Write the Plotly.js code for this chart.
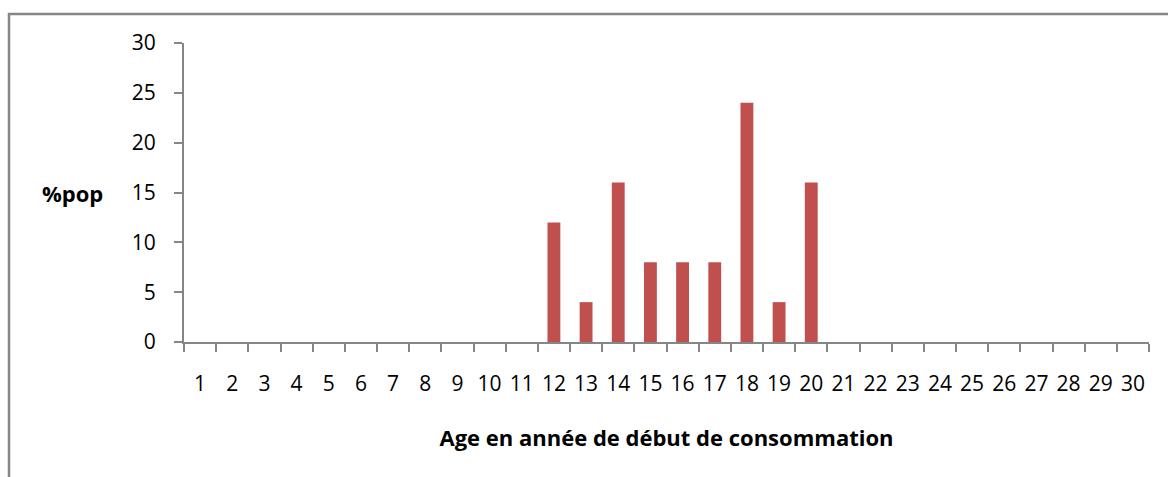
<!DOCTYPE html>
<html><head><meta charset="utf-8">
<script src="https://cdn.plot.ly/plotly-3.0.1.min.js"></script>
<style>body{margin:0;background:#fff}#c{width:1168px;height:477px}</style>
</head><body><div id="c"></div>
<script>
const ages = ["1","2","3","4","5","6","7","8","9","10","11","12","13","14","15","16","17","18","19","20","21","22","23","24","25","26","27","28","29","30"];
const pctPop = [0,0,0,0,0,0,0,0,0,0,0,12,4,16,8,8,8,24,4,16,0,0,0,0,0,0,0,0,0,0];
const yTicks = [0,5,10,15,20,25,30];
const xTitle = "Age en année de début de consommation";
const yTitle = "%pop";

const fnt = "Open Sans, Liberation Sans, sans-serif";
const data = [{
  type: "bar", x: ages, y: pctPop,
  marker: {color: "#C0504D", line: {width: 0}},
  hoverinfo: "x+y"
}];
const layout = {
  width: 1168, height: 477,
  margin: {l: 184, r: 19, t: 43, b: 135, pad: 0},
  paper_bgcolor: "#fff", plot_bgcolor: "#fff",
  bargap: 0.6,
  showlegend: false,
  font: {family: fnt, color: "#000", size: 21},
  xaxis: {
    type: "category", range: [-0.5, 29.5], tickangle: 0,
    tickson: "boundaries", ticks: "outside", ticklen: 8, tickwidth: 2, tickcolor: "#868686",
    showline: true, linecolor: "#868686", linewidth: 2,
    showgrid: false, zeroline: false,
    tickfont: {family: fnt, size: 21, color: "#000"},
    ticklabelstandoff: 22,
    title: {text: "<b>" + xTitle + "</b>", font: {family: fnt, size: 22, color: "#000"}, standoff: 34}
  },
  yaxis: {
    range: [0, 30], tickvals: yTicks, ticktext: yTicks.map(String),
    ticks: "outside", ticklen: 8, tickwidth: 2, tickcolor: "#868686",
    showline: true, linecolor: "#868686", linewidth: 2,
    showgrid: false, zeroline: false,
    tickfont: {family: fnt, size: 21, color: "#000"},
    ticklabelstandoff: 14
  },
  annotations: [{
    xref: "paper", yref: "paper", x: (72 - 184) / 965, y: (342 - 193) / 299,
    text: "<b>" + yTitle + "</b>", showarrow: false,
    font: {family: fnt, size: 22, color: "#000"}, xanchor: "center", yanchor: "middle"
  }],
  shapes: [{
    type: "rect", xref: "paper", yref: "paper",
    x0: (9 - 184) / 965, x1: 1.2, y0: -0.6, y1: (342 - 14) / 299,
    line: {color: "#868686", width: 2.5}, fillcolor: "rgba(0,0,0,0)", layer: "below"
  }]
};
Plotly.newPlot("c", data, layout, {displayModeBar: false, staticPlot: true});
</script></body></html>
